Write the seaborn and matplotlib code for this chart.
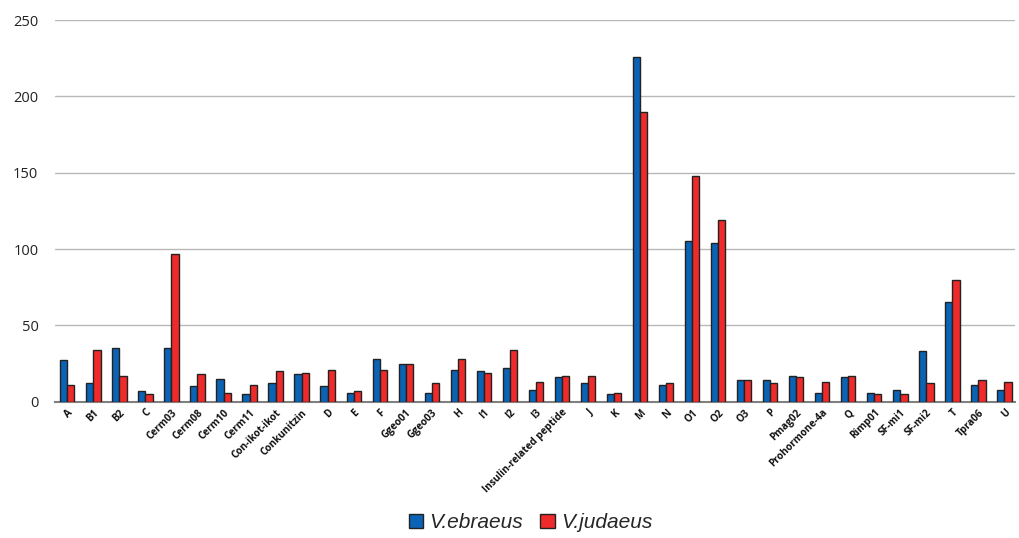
import matplotlib
matplotlib.use("Agg")
import matplotlib.pyplot as plt
import seaborn as sns
import pandas as pd

categories = [
    "A", "B1", "B2", "C", "Cerm03", "Cerm08", "Cerm10", "Cerm11",
    "Con-ikot-ikot", "Conkunitzin", "D", "E", "F", "Ggeo01", "Ggeo03",
    "H", "I1", "I2", "I3", "Insulin-related peptide", "J", "K", "M", "N",
    "O1", "O2", "O3", "P", "Pmag02", "Prohormone-4a", "Q", "Rimp01",
    "SF-mi1", "SF-mi2", "T", "Tpra06", "U",
]
v_ebraeus = [27, 12, 35, 7, 35, 10, 15, 5, 12, 18, 10, 6, 28, 25, 6,
             21, 20, 22, 8, 16, 12, 5, 226, 11, 105, 104, 14, 14, 17, 6,
             16, 6, 8, 33, 65, 11, 8]
v_judaeus = [11, 34, 17, 5, 97, 18, 6, 11, 20, 19, 21, 7, 21, 25, 12,
             28, 19, 34, 13, 17, 17, 6, 190, 12, 148, 119, 14, 12, 16, 13,
             17, 5, 5, 12, 80, 14, 13]
series_names = ["V.ebraeus", "V.judaeus"]
y_ticks = [0, 50, 100, 150, 200, 250]

df = pd.DataFrame({
    "family": categories * 2,
    "count": v_ebraeus + v_judaeus,
    "species": [series_names[0]] * len(categories) + [series_names[1]] * len(categories),
})

sns.set_theme(style="white")
plt.rcParams["font.family"] = ["Open Sans", "DejaVu Sans"]

fig = plt.figure(figsize=(10.2, 5.38), dpi=100)
ax = fig.add_axes([0.054, 0.2533, 0.941, 0.7095])

palette = {"V.ebraeus": "#0B63B5", "V.judaeus": "#EE2A2A"}
sns.barplot(data=df, x="family", y="count", hue="species", palette=palette,
            order=categories, hue_order=series_names, width=0.55, gap=0,
            edgecolor="#222222", linewidth=1.0, saturation=1, ax=ax,
            legend=False, zorder=3)

ax.set_ylim(0, 250)
ax.set_xlim(-0.47, 36.4)
ax.set_yticks(y_ticks)
ax.set_yticklabels([str(t) for t in y_ticks], fontsize=10.5, color="#222222")
ax.yaxis.grid(True, color="#b8b8b8", linewidth=1.0, zorder=0)
ax.set_axisbelow(True)
for side in ["top", "right", "left"]:
    ax.spines[side].set_visible(False)
ax.spines["bottom"].set_color("#808080")
ax.spines["bottom"].set_linewidth(1.5)
ax.tick_params(axis="y", length=0, pad=12)
ax.tick_params(axis="x", length=0, pad=4)
ax.set_xlabel("")
ax.set_ylabel("")

ax.set_xticks(range(len(categories)))
ax.set_xticklabels(categories, rotation=45, ha="right", rotation_mode="anchor",
                   fontsize=7.2, fontweight="bold", color="#111111")

handles = [plt.Rectangle((0, 0), 1, 1, facecolor=palette[s], edgecolor="#222222",
                         linewidth=1.0) for s in series_names]
fig.legend(handles, series_names, loc="center", bbox_to_anchor=(0.52, 0.028),
           ncol=2, frameon=False, handlelength=0.7, handleheight=0.7,
           handletextpad=0.3, columnspacing=0.8,
           prop={"family": "Liberation Sans", "style": "italic", "size": 15})

fig.savefig("out.png", dpi=100)
